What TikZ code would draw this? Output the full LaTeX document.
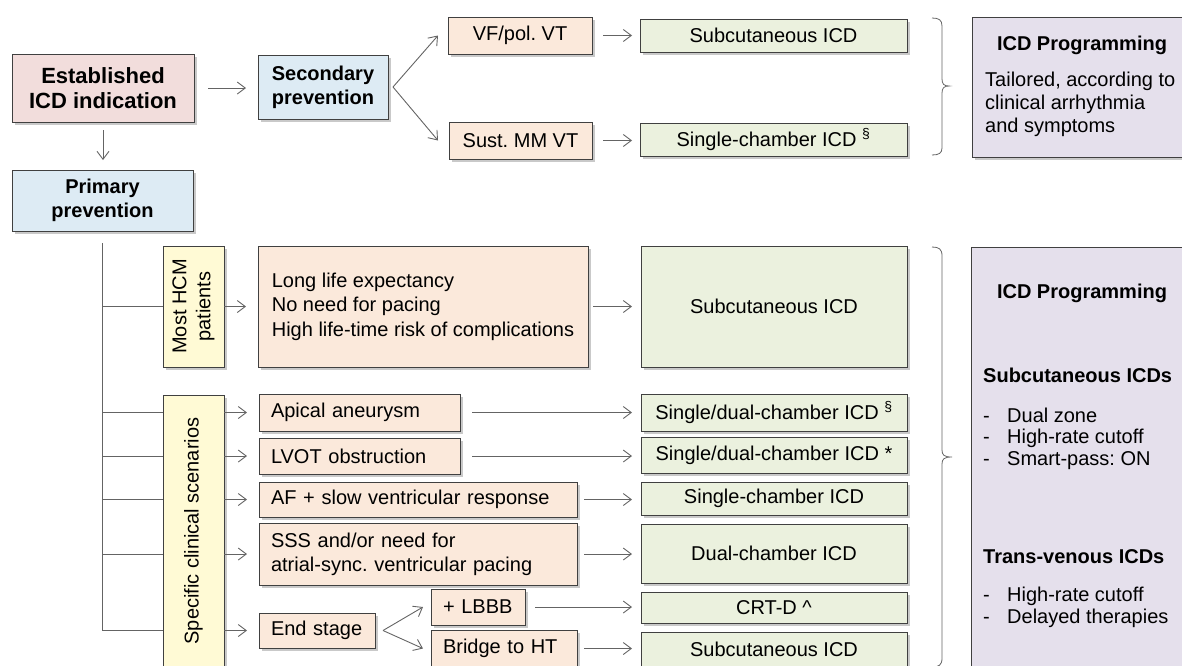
\documentclass[tikz,border=0pt]{standalone}
\usepackage{fontspec}
\setmainfont{Liberation Sans}
\usetikzlibrary{arrows.meta,shadows,calc}
\definecolor{cpink}{RGB}{242,221,220}
\definecolor{cblue}{RGB}{221,235,244}
\definecolor{cpeach}{RGB}{251,233,219}
\definecolor{cgreen}{RGB}{235,241,222}
\definecolor{cyellow}{RGB}{255,250,213}
\definecolor{cpurple}{RGB}{229,224,236}
\definecolor{cborder}{RGB}{64,64,64}
\definecolor{cline}{RGB}{100,100,100}
\frenchspacing
\begin{document}
\frenchspacing
\begin{tikzpicture}[x=1pt,y=-1pt,
  box/.style={draw=cborder, line width=0.9pt, inner sep=0pt, outer sep=0pt, anchor=north west,
    drop shadow={shadow xshift=2.5pt, shadow yshift=-3pt, opacity=0.3, fill=black!70}},
  ctext/.style={align=center, font=\fontsize{20}{24}\selectfont},
  btext/.style={align=center, font=\fontsize{20}{24}\selectfont\bfseries},
  ltext/.style={align=left, inner xsep=12pt, font=\fontsize{20}{24}\selectfont},
  pk/.style={box, fill=cpink}, bl/.style={box, fill=cblue}, pe/.style={box, fill=cpeach},
  gr/.style={box, fill=cgreen}, ye/.style={box, fill=cyellow}, pu/.style={box, fill=cpurple},
  line/.style={draw=cline, line width=0.9pt},
  arr/.style={line, -{Straight Barb[length=8pt,width=12pt]}},
  ptext/.style={align=left, inner sep=0pt, anchor=west, font=\fontsize{20}{23}\selectfont},
  plist/.style={align=left, inner sep=0pt, anchor=west, font=\fontsize{20}{21.5}\selectfont},
]
\useasboundingbox (0,0) rectangle (1182,665);
\clip (0,0) rectangle (1182,665);

% --- top part
\node[pk, minimum width=182pt, minimum height=68pt, align=center, font=\fontsize{22}{25}\selectfont\bfseries] (est) at (12,54) {Established\\ICD indication};
\node[bl, btext, minimum width=130pt, minimum height=64pt] (sec) at (258,55) {Secondary\\prevention};
\node[bl, btext, minimum width=181pt, minimum height=61pt] (prim) at (12,170) {Primary\\prevention};
\node[pe, ctext, minimum width=144pt, minimum height=37pt] (vf) at (448,17) {VF/pol. VT};
\node[pe, ctext, minimum width=143pt, minimum height=37pt] (sust) at (449,122) {Sust. MM VT};
\node[gr, ctext, minimum width=267pt, minimum height=33pt] (sc1) at (640,19) {Subcutaneous ICD};
\node[gr, ctext, minimum width=267pt, minimum height=33pt] (sc2) at (640,123) {Single-chamber ICD \textsuperscript{§}};
\node[pu, minimum width=240pt, minimum height=140pt] (prog1) at (972,17) {};
\node[btext] (p1t) at (1082,45) {ICD Programming};
\node[ptext] (p1b) at (985,104) {Tailored, according to\\clinical arrhythmia\\and symptoms};

\draw[line, line width=0.8pt] (932,18) .. controls (939,18) and (942,20) .. (942,26) -- (942,79)
  .. controls (942,84) and (944,86) .. (949,86) .. controls (944,86) and (942,88) .. (942,93)
  -- (942,148) .. controls (942,153) and (939,155) .. (932,155);

\draw[arr, shorten <=14pt, shorten >=12pt] (est.east) -- (est.east -| sec.west);
\draw[arr, shorten <=8pt, shorten >=10pt] (est.south) -- (est.south |- prim.north);
\coordinate (sf) at ($(sec.east)+(5,0)$);
\draw[arr] (sf) -- ($(vf.west)+(-10,0)$);
\draw[arr] (sf) -- ($(sust.west)+(-11,0)$);
\draw[arr, shorten <=11pt, shorten >=8pt] (vf.east) -- (vf.east -| sc1.west);
\draw[arr, shorten <=11pt, shorten >=8pt] (sust.east) -- (sust.east -| sc2.west);

% --- primary prevention part
\node[ye, minimum width=61pt, minimum height=121pt] (most) at (163,246) {};
\node[ctext, rotate=90] (mostt) at (most.center) {Most HCM\\patients};
\node[ye, minimum width=61pt, minimum height=272pt] (spec) at (163,395) {};
\node[ctext, rotate=90] (spect) at (spec.center) {Specific clinical scenarios};

\node[pe, align=left, font=\fontsize{20}{24.5}\selectfont, minimum width=330pt, minimum height=121pt] (long) at (258,246) {Long life expectancy\\No need for pacing\\High life-time risk of complications};
\node[gr, ctext, minimum width=266pt, minimum height=121pt] (scL) at (641,246) {Subcutaneous ICD};

\node[pe, ltext, text width=177pt, minimum height=37pt] (apical) at (259,394) {Apical aneurysm};
\node[pe, ltext, text width=177pt, minimum height=36pt] (lvot) at (259,438) {LVOT obstruction};
\node[pe, ltext, text width=294pt, minimum height=35pt] (af) at (259,482) {AF + slow ventricular response};
\node[pe, ltext, text width=294pt, minimum height=62pt] (sss) at (259,523) {SSS and/or need for\\atrial-sync. ventricular pacing};
\node[pe, ltext, text width=92pt, minimum height=35pt] (endst) at (259,613) {End stage};
\node[pe, ltext, text width=70pt, minimum height=36pt] (lbbb) at (431,589) {+ LBBB};
\node[pe, ltext, text width=122pt, minimum height=37pt] (bridge) at (431,630) {Bridge to HT};

\node[gr, ctext, minimum width=266pt, minimum height=37pt] (g1) at (641,394) {Single/dual-chamber ICD \textsuperscript{§}};
\node[gr, ctext, minimum width=266pt, minimum height=36pt] (g2) at (641,437) {Single/dual-chamber ICD *};
\node[gr, ctext, minimum width=266pt, minimum height=33pt] (g3) at (641,482) {Single-chamber ICD};
\node[gr, ctext, minimum width=266pt, minimum height=59pt] (g4) at (641,524) {Dual-chamber ICD};
\node[gr, ctext, minimum width=266pt, minimum height=31pt] (g5) at (641,592) {CRT-D \textasciicircum};
\node[gr, ctext, minimum width=266pt, minimum height=35pt] (g6) at (641,632) {Subcutaneous ICD};

\node[pu, minimum width=240pt, minimum height=450pt] (prog2) at (971,247) {};
\node[btext] (p2t) at (1082,293) {ICD Programming};
\node[ptext, font=\fontsize{20}{24}\selectfont\bfseries] (p2s) at (983,375) {Subcutaneous ICDs};
\node[plist] (p2sl) at (983,438.5) {\makebox[24pt][l]{-}Dual zone\\\makebox[24pt][l]{-}High-rate cutoff\\\makebox[24pt][l]{-}Smart-pass: ON};
\node[ptext, font=\fontsize{20}{24}\selectfont\bfseries] (p2v) at (983,557) {Trans-venous ICDs};
\node[plist] (p2vl) at (983,607.5) {\makebox[24pt][l]{-}High-rate cutoff\\\makebox[24pt][l]{-}Delayed therapies};

\draw[line, line width=0.8pt] (932,247) .. controls (939,247) and (942,249) .. (942,256) -- (942,450)
  .. controls (942,455) and (944,457) .. (952,457) .. controls (944,457) and (942,459) .. (942,464)
  -- (942,658) .. controls (942,665) and (939,667) .. (932,667);

% tree
\coordinate (ttop) at ($(prim.south)+(0,12)$);
\draw[line] (ttop) -- (ttop |- endst.west);
\draw[line] (ttop |- most.west) -- (most.west);
\draw[arr, shorten >=12pt] (most.east) -- (long.west);
\foreach \n in {apical,lvot,af,sss,endst}{
  \draw[line] (ttop |- \n.west) -- (spec.west |- \n.west);
  \draw[arr, shorten >=12pt] (spec.east |- \n.west) -- (\n.west);
}

\draw[arr, shorten <=5pt, shorten >=9pt] (long.east) -- (scL.west);
\draw[arr, shorten <=12pt, shorten >=9pt] (apical.east) -- (apical.east -| g1.west);
\draw[arr, shorten <=12pt, shorten >=9pt] (lvot.east) -- (lvot.east -| g2.west);
\draw[arr, shorten <=7pt, shorten >=9pt] (af.east) -- (af.east -| g3.west);
\draw[arr, shorten <=7pt, shorten >=9pt] (sss.east) -- (sss.east -| g4.west);
\draw[arr, shorten <=10pt, shorten >=9pt] (lbbb.east) -- (lbbb.east -| g5.west);
\draw[arr, shorten <=7pt, shorten >=9pt] (bridge.east) -- (bridge.east -| g6.west);
\coordinate (ef) at ($(endst.east)+(8,0)$);
\draw[arr] (ef) -- ($(lbbb.west)+(-8,0)$);
\draw[arr] (ef) -- ($(bridge.west)+(-8,0)$);
\end{tikzpicture}
\end{document}
